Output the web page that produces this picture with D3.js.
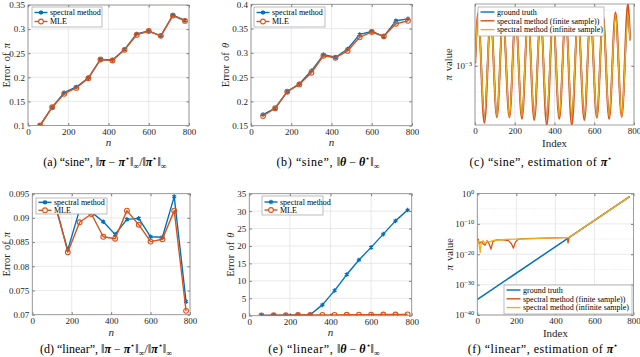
<!DOCTYPE html>
<html><head><meta charset="utf-8">
<script src="https://cdn.jsdelivr.net/npm/d3@7"></script>
<style>body{margin:0;background:#fff}svg{display:block}</style>
</head><body>
<script>
// ---------------- DATA ----------------
const nVals = [60,120,180,240,300,360,420,480,540,600,660,720,780];
const xTicks = [0,200,400,600,800];

// (a) sine, relative error of pi
const sinePiSpec = [0.100,0.138,0.168,0.180,0.199,0.237,0.236,0.258,0.290,0.296,0.286,0.329,0.318];
const sinePiMle  = [0.100,0.138,0.166,0.178,0.198,0.237,0.235,0.257,0.288,0.296,0.286,0.328,0.317];
const sinePiTicks = [0.1,0.15,0.2,0.25,0.3,0.35];

// (b) sine, error of theta
const sineThSpec = [0.173,0.186,0.220,0.236,0.263,0.296,0.291,0.308,0.338,0.344,0.334,0.366,0.370];
const sineThMle  = [0.170,0.186,0.220,0.235,0.259,0.294,0.290,0.304,0.332,0.343,0.334,0.360,0.366];
const sineThTicks = [0.15,0.2,0.25,0.3,0.35,0.4];

// (c) sine, estimation of pi* (values at start, extrema and end)
const sineIdx      = [1,16,47,79,110,141,173,204,236,267,298,330,361,393,424,456,487,518,550,581,613,644,675,707,738,770,780];
const sineTruth    = [1.09e-3,2.72e-3,3.68e-4,2.72e-3,3.68e-4,2.72e-3,3.68e-4,2.72e-3,3.68e-4,2.72e-3,3.68e-4,2.72e-3,3.68e-4,2.72e-3,3.68e-4,2.72e-3,3.68e-4,2.72e-3,3.68e-4,2.72e-3,3.68e-4,2.72e-3,3.68e-4,2.72e-3,3.68e-4,2.72e-3,1.65e-3];
const sineFinite   = [1.05e-3,2.85e-3,3.24e-4,2.75e-3,3.62e-4,2.70e-3,3.60e-4,2.78e-3,3.50e-4,2.70e-3,3.43e-4,2.75e-3,3.11e-4,2.72e-3,3.50e-4,2.80e-3,3.10e-4,2.70e-3,3.43e-4,2.78e-3,3.58e-4,2.74e-3,3.50e-4,2.88e-3,3.64e-4,3.45e-3,1.70e-3];
const sineInfinite = [1.09e-3,2.72e-3,3.68e-4,2.72e-3,3.68e-4,2.72e-3,3.68e-4,2.72e-3,3.68e-4,2.72e-3,3.68e-4,2.72e-3,3.68e-4,2.72e-3,3.68e-4,2.72e-3,3.68e-4,2.72e-3,3.68e-4,2.72e-3,3.68e-4,2.72e-3,3.68e-4,2.72e-3,3.68e-4,2.72e-3,1.65e-3];
const sineLogDomain = [3.10e-4,3.40e-3];

// (d) linear, relative error of pi
const linPiSpec = [0.0930,0.0920,0.0834,0.0917,0.0912,0.0892,0.0866,0.0897,0.0899,0.0861,0.0860,0.0944,0.0727];
const linPiMle  = [0.0935,0.0925,0.0829,0.0891,0.0908,0.0861,0.0857,0.0915,0.0886,0.0851,0.0856,0.0915,0.0708];
const linPiTicks = [0.07,0.075,0.08,0.085,0.09,0.095];

// (e) linear, error of theta
const linThSpec = [0.10,0.12,0.15,0.20,0.25,3.1,7.2,11.8,16.0,19.6,23.4,27.2,30.3];
const linThMle  = [0.10,0.12,0.15,0.18,0.20,0.22,0.25,0.27,0.29,0.31,0.33,0.35,0.37];
const linThTicks = [0,5,10,15,20,25,30,35];

// (f) linear, estimation of pi*
const linTruthIdx = [1,780];
const linTruth    = [1.4e-35,9.5e-2];
const linFiniteIdx = [1,5,10,20,30,40,50,60,70,80,100,130,160,175,185,195,210,250,300,350,400,440,460,465,470,780];
const linFinite    = [3e-16,1e-15,3e-17,1.5e-16,3e-17,1e-17,3e-16,3e-17,5e-19,1.5e-16,6e-16,6e-16,3e-16,3e-17,1e-18,1e-16,1e-15,1.3e-15,1.6e-15,2e-15,2.5e-15,3e-15,3.2e-15,6e-17,3.3e-15,9.5e-2];
const linInfiniteIdx = [1,5,10,15,20,30,40,50,60,80,100,150,200,250,300,350,400,450,470,780];
const linInfinite    = [1e-16,3e-16,1e-17,4e-20,1e-16,3e-16,3e-17,3e-16,1e-16,3e-16,5e-16,8e-16,1e-15,1.2e-15,1.5e-15,2e-15,2.5e-15,3e-15,3.3e-15,9.5e-2];
const linLogTicks = [1e-40,1e-30,1e-20,1e-10,1e0];

// ---------------- STYLE ----------------
const FONT = "'Liberation Serif','Times New Roman',serif";
const AXC = "#262626", FRAME = "#8a8a8a", GRID = "#e3e3e3";
const BLUE = "#0072BD", RED = "#D95319", YEL = "#EDB120";

const svg = d3.select("body").append("svg").attr("width",640).attr("height",357)
  .style("font-family",FONT);

// rich text in one chunk: relative dy shifts computed from a running offset
function rich(sel, parts, size){
  let cur = 0;
  parts.forEach(p=>{
    let target = 0, fs = size;
    if (p.sup) { target = -size*0.42; fs = size*0.68; }
    if (p.sub) { target = size*0.25; fs = size*0.68; }
    const ts = sel.append("tspan").text(p.t).style("font-size",fs+"px");
    if (target !== cur) { ts.attr("dy", (target-cur).toFixed(2)); cur = target; }
    if (p.b) ts.style("font-weight","bold").style("font-style","italic");
    if (p.i) ts.style("font-style","italic");
    if (p.ls) ts.style("letter-spacing",p.ls+"px");
  });
}

let clipId = 0;
function panel(cfg){
  const g = svg.append("g");
  const x = d3.scaleLinear().domain([0,800]).range([cfg.x0,cfg.x1]);
  const y = (cfg.log ? d3.scaleLog() : d3.scaleLinear()).domain(cfg.yDomain).range([cfg.y1,cfg.y0]);
  if (cfg.minor) {
    g.selectAll(null).data(cfg.minor).join("line")
      .attr("x1",cfg.x0).attr("x2",cfg.x1).attr("y1",d=>y(d)).attr("y2",d=>y(d))
      .attr("stroke","#d8d8d8").attr("stroke-width",0.6).attr("stroke-dasharray","1,1.5");
  }
  g.selectAll(null).data(xTicks).join("line")
    .attr("x1",d=>x(d)).attr("x2",d=>x(d)).attr("y1",cfg.y0).attr("y2",cfg.y1)
    .attr("stroke",GRID).attr("stroke-width",0.8);
  g.selectAll(null).data(cfg.yTicks).join("line")
    .attr("x1",cfg.x0).attr("x2",cfg.x1).attr("y1",d=>y(d)).attr("y2",d=>y(d))
    .attr("stroke",GRID).attr("stroke-width",0.8);
  const id = "clip"+(clipId++);
  svg.append("clipPath").attr("id",id).append("rect")
    .attr("x",cfg.x0).attr("y",cfg.y0).attr("width",cfg.x1-cfg.x0).attr("height",cfg.y1-cfg.y0);
  const plot = g.append("g").attr("clip-path",`url(#${id})`);
  cfg.series.forEach(s=>{
    const pts = s.xs.map((xv,i)=>[xv,s.ys[i]]);
    const line = d3.line().x(d=>x(d[0])).y(d=>y(d[1]));
    if (s.curve) line.curve(s.curve);
    plot.append("path").datum(pts).attr("d",line).attr("fill","none")
      .attr("stroke",s.color).attr("stroke-width",s.width||1.4).attr("stroke-linejoin","round");
    if (s.marker==="star") {
      plot.selectAll(null).data(pts).join("path")
        .attr("transform",d=>`translate(${x(d[0])},${y(d[1])})`)
        .attr("d",d3.symbol(d3.symbolAsterisk,14))
        .attr("fill","none").attr("stroke",s.color).attr("stroke-width",1.3);
    } else if (s.marker==="circle") {
      plot.selectAll(null).data(pts).join("circle")
        .attr("cx",d=>x(d[0])).attr("cy",d=>y(d[1])).attr("r",2.4)
        .attr("fill","none").attr("stroke",s.color).attr("stroke-width",1.1);
    }
  });
  const ax = g.append("g").attr("transform",`translate(0,${cfg.y1})`)
    .call(d3.axisBottom(x).tickValues(xTicks).tickSize(-2.5).tickPadding(3));
  const axT = g.append("g").attr("transform",`translate(0,${cfg.y0})`)
    .call(d3.axisTop(x).tickValues(xTicks).tickSize(-2.5).tickFormat(""));
  const ay = g.append("g").attr("transform",`translate(${cfg.x0},0)`)
    .call(d3.axisLeft(y).tickValues(cfg.yTicks).tickSize(-2.5).tickPadding(3)
      .tickFormat(cfg.log ? (()=>"") : d3.format("")));
  const ayR = g.append("g").attr("transform",`translate(${cfg.x1},0)`)
    .call(d3.axisRight(y).tickValues(cfg.yTicks).tickSize(-2.5).tickFormat(""));
  [ax,axT,ay,ayR].forEach(a=>{
    a.select(".domain").remove();
    a.selectAll(".tick line").attr("stroke",AXC).attr("stroke-width",0.6);
    a.selectAll("text").attr("fill",AXC).style("font-family",FONT).style("font-size","9px");
  });
  ax.selectAll("text").attr("dy","0.72em");
  if (cfg.log) {
    ay.selectAll(".tick text").each(function(d){
      const t = d3.select(this).text("");
      t.append("tspan").text("10");
      t.append("tspan").attr("dy","-0.45em").style("font-size","6.5px")
        .text(String(Math.round(Math.log10(d))).replace("-","\u2212"));
    });
  }
  g.append("rect").attr("x",cfg.x0).attr("y",cfg.y0).attr("width",cfg.x1-cfg.x0).attr("height",cfg.y1-cfg.y0)
    .attr("fill","none").attr("stroke",FRAME).attr("stroke-width",0.8);
  const xl = g.append("text").attr("x",(cfg.x0+cfg.x1)/2).attr("y",cfg.xlY).attr("text-anchor","middle")
    .attr("fill",AXC).style("font-size","11px");
  if (cfg.xlabel==="n") xl.append("tspan").style("font-style","italic").text("n");
  else xl.text(cfg.xlabel);
  const yl = g.append("text").attr("transform",`translate(${cfg.ylX},${(cfg.y0+cfg.y1)/2}) rotate(-90)`)
    .attr("text-anchor","middle").attr("fill",AXC).style("font-size","10.5px").style("word-spacing","1.5px");
  cfg.ylabel.forEach(p=>{ const ts = yl.append("tspan").text(p.t); if(p.i) ts.style("font-style","italic"); });
  const L = cfg.legend;
  const lg = g.append("g");
  lg.append("rect").attr("x",L.x).attr("y",L.y).attr("width",L.w).attr("height",L.h)
    .attr("fill","#fff").attr("stroke","#a0a0a0").attr("stroke-width",0.7);
  L.items.forEach((it,i)=>{
    const yy = L.y + L.rowY0 + i*L.dy;
    lg.append("line").attr("x1",L.x+2.5).attr("x2",L.x+2.5+L.lineW).attr("y1",yy).attr("y2",yy)
      .attr("stroke",it.color).attr("stroke-width",1.4);
    const cx = L.x+2.5+L.lineW/2;
    if (it.marker==="star") lg.append("path").attr("transform",`translate(${cx},${yy})`)
      .attr("d",d3.symbol(d3.symbolAsterisk,14)).attr("fill","none").attr("stroke",it.color).attr("stroke-width",1.3);
    if (it.marker==="circle") lg.append("circle").attr("cx",cx).attr("cy",yy).attr("r",2.4)
      .attr("fill","#fff").attr("stroke",it.color).attr("stroke-width",1.1);
    lg.append("text").attr("x",L.x+5+L.lineW).attr("y",yy+2.8).attr("fill","#000")
      .style("font-size","8px").text(it.label);
  });
  const cap = g.append("text").attr("x",cfg.capX).attr("y",cfg.capY).attr("text-anchor","middle")
    .attr("fill","#000").style("font-size","12px");
  rich(cap, cfg.caption, 12);
}

const normCap = sym => [{t:"‖"},{t:sym,b:1},{t:" − "},{t:sym,b:1},{t:"⋆",sup:1},{t:"‖"},{t:"∞",sub:1}];
const relCap = [...normCap("π"),{t:"/‖"},{t:"π",b:1},{t:"⋆",sup:1},{t:"‖"},{t:"∞",sub:1}];
const legSM = (x,y,w,h)=>({x,y,w,h,lineW:13,rowY0:5.5,dy:9,items:[
  {label:"spectral method",color:BLUE,marker:"star"},{label:"MLE",color:RED,marker:"circle"}]});
const legPi = (x,y,w,h,dy)=>({x,y,w,h,lineW:14,rowY0:5,dy:dy,items:[
  {label:"ground truth",color:BLUE},{label:"spectral method (finite sample))",color:RED},
  {label:"spectral method (infinite sample)",color:YEL}]});

const smSeries = (a,b)=>[
  {xs:nVals,ys:a,color:BLUE,marker:"star"},
  {xs:nVals,ys:b,color:RED,marker:"circle"}];

// (a)
panel({x0:28,x1:189,y0:5,y1:125.5,yDomain:[0.1,0.35],yTicks:sinePiTicks,
  series:smSeries(sinePiSpec,sinePiMle),xlabel:"n",xlY:146,ylX:9.5,
  ylabel:[{t:"Error of "},{t:"π",i:1}],legend:legSM(32,7,70,20),
  capX:105,capY:166,caption:[{t:"(a) “sine”, "},...relCap]});
// (b)
panel({x0:251,x1:412,y0:4.3,y1:125.7,yDomain:[0.15,0.4],yTicks:sineThTicks,
  series:smSeries(sineThSpec,sineThMle),xlabel:"n",xlY:146,ylX:229,
  ylabel:[{t:"Error of "},{t:"θ",i:1}],legend:legSM(254,7,71,20),
  capX:328,capY:166,caption:[{t:"(b) “sine”, ",ls:0.6},...normCap("θ")]});
// (c)
panel({x0:475,x1:634,y0:4,y1:125,log:true,yDomain:sineLogDomain,yTicks:[1e-3],
  minor:[4e-4,5e-4,6e-4,7e-4,8e-4,9e-4,2e-3,3e-3],
  series:[
    {xs:sineIdx,ys:sineTruth,color:BLUE,curve:d3.curveMonotoneX,width:1.5},
    {xs:sineIdx,ys:sineFinite,color:RED,curve:d3.curveMonotoneX,width:2.0},
    {xs:sineIdx,ys:sineInfinite,color:YEL,curve:d3.curveMonotoneX,width:1.3}],
  xlabel:"Index",xlY:147,ylX:452,ylabel:[{t:"π",i:1},{t:" value"}],
  legend:legPi(478,7,126,29,8.8),
  capX:541,capY:166,caption:[{t:"(c) “sine”, estimation of ",ls:0.5},{t:"π",b:1},{t:"⋆",sup:1}]});
// (d)
panel({x0:32.3,x1:190,y0:193.7,y1:314.7,yDomain:[0.07,0.095],yTicks:linPiTicks,
  series:smSeries(linPiSpec,linPiMle),xlabel:"n",xlY:336,ylX:9.5,
  ylabel:[{t:"Error of "},{t:"π",i:1}],legend:{...legSM(36,198,71,16),rowY0:4.3,dy:8},
  capX:106,capY:353,caption:[{t:"(d) “linear”, "},...relCap]});
// (e)
panel({x0:249.3,x1:411.7,y0:193.7,y1:315.7,yDomain:[0,35],yTicks:linThTicks,
  series:smSeries(linThSpec,linThMle),xlabel:"n",xlY:336,ylX:234,
  ylabel:[{t:"Error of "},{t:"θ",i:1}],legend:{...legSM(262,196,61,19),rowY0:6,dy:8},
  capX:324,capY:353,caption:[{t:"(e) “linear”, ",ls:0.6},...normCap("θ")]});
// (f)
panel({x0:477.3,x1:633.5,y0:193.5,y1:315,log:true,yDomain:[1e-40,1e0],yTicks:linLogTicks,
  minor:[1e-35,1e-25,1e-15,1e-5],
  series:[
    {xs:linTruthIdx,ys:linTruth,color:BLUE,width:1.5},
    {xs:linFiniteIdx,ys:linFinite,color:RED,width:1.3},
    {xs:linInfiniteIdx,ys:linInfinite,color:YEL,width:1.3}],
  xlabel:"Index",xlY:337,ylX:453,ylabel:[{t:"π",i:1},{t:" value"}],
  legend:legPi(504,285,128,29,8.8),
  capX:543,capY:353,caption:[{t:"(f) “linear”, estimation of ",ls:0.5},{t:"π",b:1},{t:"⋆",sup:1}]});
</script>
</body></html>
